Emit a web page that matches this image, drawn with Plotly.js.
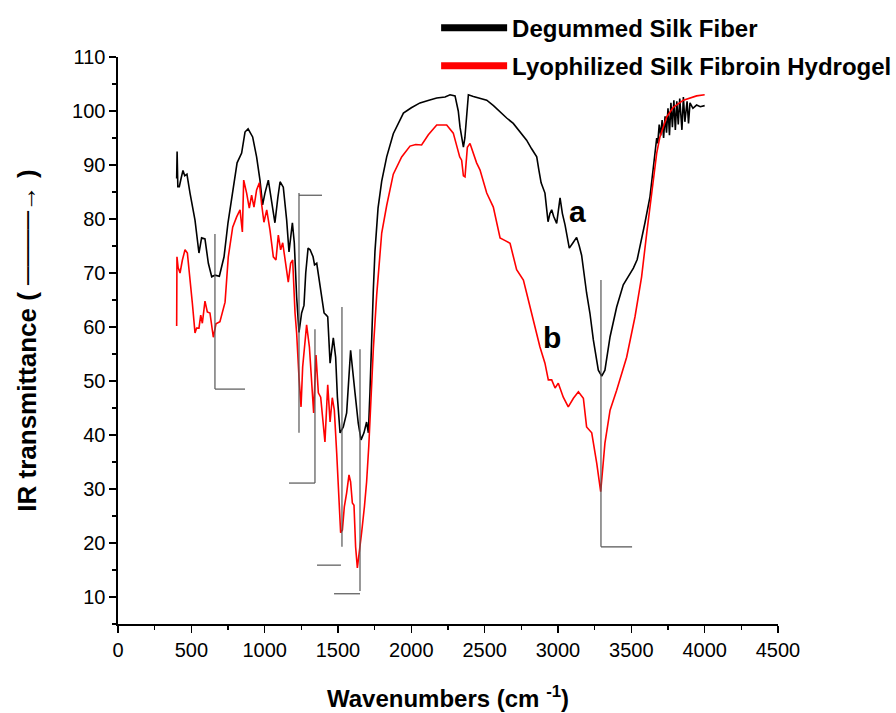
<!DOCTYPE html>
<html>
<head>
<meta charset="utf-8">
<script src="https://cdn.plot.ly/plotly-3.0.1.min.js"></script>
<style>html,body{margin:0;padding:0;background:#fff;}#chart{width:896px;height:713px;}</style>
</head>
<body>
<div id="chart"></div>
<script>
// Degummed Silk Fiber (curve a)
const fiberX = [400,403,408,418,430,443,455,470,491,510,525,552,570,593,616,639,661,691,723,750,785,812,843,866,887,918,945,968,986,1002,1025,1048,1070,1090,1105,1127,1150,1166,1189,1202,1218,1234,1245,1252,1268,1280,1296,1310,1330,1340,1355,1377,1405,1420,1430,1446,1468,1484,1496,1514,1536,1559,1586,1616,1638,1657,1677,1695,1707,1718,1730,1741,1752,1773,1798,1832,1877,1923,1946,2000,2059,2120,2173,2230,2264,2298,2320,2332,2345,2355,2365,2373,2389,2423,2470,2514,2560,2605,2650,2695,2740,2786,2820,2855,2870,2885,2911,2932,2945,2957,2970,2991,3014,3030,3048,3062,3077,3100,3127,3145,3161,3195,3218,3241,3275,3298,3320,3355,3400,3445,3480,3514,3540,3559,3593,3627,3650,3665,3673,3680,3690,3700,3710,3720,3730,3740,3750,3760,3770,3780,3790,3800,3810,3820,3830,3845,3855,3865,3880,3890,3900,3920,3945,3970,4000];
const fiberY = [87.5,92.5,86,86,87.5,89,88,88.3,84.8,82,79.8,73.7,76.5,76.3,71.8,69.3,69.6,69.4,73,79.3,85.9,90.4,92.2,96.1,96.7,95.2,91.5,87.2,82.6,84.8,87.2,83.5,79.3,84,86.9,85.9,79.8,73.9,79.3,75.6,65.6,59,61,62.6,64,70,74.6,74.3,73,71.5,71.8,67.4,62.6,62.2,61.9,53.3,58,54.4,47,40.4,41.5,44.1,55.7,47.8,42.2,39.1,40.4,42.4,40.4,48,60,67,74,82,87,91.5,95.8,98.5,99.6,100.6,101.5,102,102.4,102.6,103,102.8,100,97,94.5,93.3,95,97.8,103,102.7,102.3,102,101,99.8,98.7,97.7,96.2,94.6,93,91.5,89,86.7,84.8,79.5,81,81.7,80.5,79.2,83.9,81,78.9,76.5,74.6,75.5,76.6,75,73.3,66.3,62.5,57.6,52,50.9,52,58.2,63.7,67.8,69.5,70.9,72.5,74.8,79.3,84.1,89.6,93,95,94,97.5,95.5,98.3,95,99,96,100.5,95.5,101.5,97,102,96.5,101.8,97.5,102.3,96.5,102.6,98,101.8,97.7,101.5,100.5,101.1,100.8,101];

// Lyophilized Silk Fibroin Hydrogel (curve b)
const gelX = [400,402,410,423,439,457,473,491,507,525,536,552,564,575,593,609,627,650,668,695,716,730,752,782,809,832,848,857,877,895,911,927,945,964,980,995,1014,1036,1059,1077,1093,1109,1123,1139,1161,1177,1191,1207,1218,1234,1248,1259,1270,1286,1305,1320,1334,1350,1366,1382,1396,1411,1430,1446,1461,1475,1491,1507,1518,1530,1543,1559,1575,1586,1598,1609,1620,1632,1645,1661,1680,1695,1710,1725,1741,1764,1786,1798,1832,1877,1934,1991,2030,2070,2116,2173,2241,2286,2310,2330,2343,2355,2366,2382,2400,2445,2468,2514,2559,2605,2640,2673,2718,2764,2786,2832,2877,2911,2934,2957,2980,3002,3036,3070,3105,3139,3173,3195,3230,3264,3291,3320,3355,3400,3468,3525,3570,3605,3639,3650,3673,3695,3741,3786,3855,3945,4000];
const gelY = [60.2,73,71,70,72.4,74.3,73.7,69.3,64.4,58.9,59.8,59.8,62.2,60.7,64.8,62.8,62.6,58.1,60.6,61,63.1,64.6,73,78.5,80.4,81.7,77.6,87.2,84.8,82,84.4,82.2,85.4,86.7,82.6,79.4,81.7,78,73,72.4,77,74.3,75.6,72.4,68.3,71.8,72.4,62.6,58.9,50.7,45.2,52.6,55.7,60.4,56.3,48.9,44.1,54.8,47.8,47,42.8,38.7,49.3,42.4,46.9,44.6,36.7,28,21.9,22.4,26.7,29.3,32.6,31.3,27.4,27,19.3,15.4,18.1,21.9,26.7,31.3,38,47,56,66,74.5,77.4,82.5,88.3,91.5,93.5,93.8,93.7,95.6,97.4,97.4,95.9,93.5,91.5,90.9,88,87.8,93.3,94,90.4,89.1,84.8,82.2,76.5,76,75.5,70.6,68.7,66.3,61.3,56.3,53.3,50.2,50.2,48.7,49.6,47,45.2,46.8,48,46.8,41.5,40.4,34.8,29.5,38.5,44.6,48.3,54.4,61.9,69.3,77.4,84.8,87.8,92.2,95.2,98.9,100.7,102,102.8,103];

const seriesNames = ['Degummed Silk Fiber', 'Lyophilized Silk Fibroin Hydrogel'];
const seriesColors = ['#000000', '#ff0000'];

// peak marker brackets (wavenumber, top, bottom)
const markX = [661, 1234, 1343, 1527, 1650, 3293];
const markTop = [77.2, 84.8, 59.6, 63.7, 55.9, 68.7];
const markBottom = [48.5, 40.4, 31.1, 19.3, 11.1, 19.3];
const footY = [48.5, 84.4, 31.1, 15.9, 10.6, 19.3];
const footX0 = [661, 1234, 1166, 1357, 1473, 3293];
const footX1 = [866, 1391, 1343, 1520, 1650, 3505];

const labelText = ['a', 'b'];
const labelX = [3136, 2959];
const labelY = [81.3, 58.1];

const traces = [
  {x: fiberX, y: fiberY, type: 'scatter', mode: 'lines', line: {color: seriesColors[0], width: 1.6}, showlegend: false, hoverinfo: 'skip'},
  {x: gelX, y: gelY, type: 'scatter', mode: 'lines', line: {color: seriesColors[1], width: 1.6}, showlegend: false, hoverinfo: 'skip'},
  {x: [null], y: [null], type: 'scatter', mode: 'lines', name: seriesNames[0], legendgroup: 'a', line: {color: seriesColors[0], width: 7}},
  {x: [null], y: [null], type: 'scatter', mode: 'lines', name: seriesNames[1], legendgroup: 'b', line: {color: seriesColors[1], width: 7}}
];

const shapes = [];
for (let i = 0; i < markX.length; i++) {
  shapes.push({type: 'line', xref: 'x', yref: 'y', x0: markX[i], x1: markX[i], y0: markBottom[i], y1: markTop[i], line: {color: '#555555', width: 1.2}});
  shapes.push({type: 'line', xref: 'x', yref: 'y', x0: footX0[i], x1: footX1[i], y0: footY[i], y1: footY[i], line: {color: '#555555', width: 1.2}});
}

const annotations = labelText.map((t, i) => ({
  x: labelX[i], y: labelY[i], xref: 'x', yref: 'y', text: t, showarrow: false,
  font: {family: 'Liberation Sans, Arial, sans-serif', size: 30, color: '#000', weight: 'bold'}
}));

const tickFont = {family: 'Liberation Sans, Arial, sans-serif', size: 20, color: '#000'};

const layout = {
  width: 896, height: 713,
  paper_bgcolor: '#fff', plot_bgcolor: '#fff',
  margin: {l: 118, r: 118, t: 57, b: 89, autoexpand: false},
  showlegend: true,
  legend: {
    x: 0.482, y: 1.0907, xanchor: 'left', yanchor: 'top',
    font: {family: 'Liberation Sans, Arial, sans-serif', size: 24, color: '#000', weight: 'bold'},
    bgcolor: 'rgba(0,0,0,0)', itemwidth: 66, tracegroupgap: 4, traceorder: 'grouped'
  },
  xaxis: {
    range: [0, 4500], tick0: 0, dtick: 500, showgrid: false, zeroline: false,
    showline: true, linecolor: '#000', linewidth: 1.6,
    ticks: 'outside', ticklen: 7, tickwidth: 1.5, tickcolor: '#000',
    minor: {dtick: 250, ticks: 'outside', ticklen: 4, tickwidth: 1.5, tickcolor: '#000'},
    tickfont: tickFont,
    title: {text: 'Wavenumbers (cm <sup>-1</sup>)', standoff: 30,
      font: {family: 'Liberation Sans, Arial, sans-serif', size: 24, color: '#000', weight: 'bold'}}
  },
  yaxis: {
    range: [5, 110], tick0: 0, dtick: 10, showgrid: false, zeroline: false,
    showline: true, linecolor: '#000', linewidth: 1.6,
    ticks: 'outside', ticklen: 7, tickwidth: 1.5, tickcolor: '#000',
    minor: {dtick: 5, ticks: 'outside', ticklen: 4, tickwidth: 1.5, tickcolor: '#000'},
    tickfont: tickFont,
    title: {text: 'IR transmittance ( <span style="font-weight:normal">────→</span> )', standoff: 28,
      font: {family: 'Liberation Sans, Arial, sans-serif', size: 26, color: '#000', weight: 'bold'}}
  },
  shapes: shapes,
  annotations: annotations
};

Plotly.newPlot('chart', traces, layout, {displayModeBar: false, staticPlot: true});
</script>
</body>
</html>
